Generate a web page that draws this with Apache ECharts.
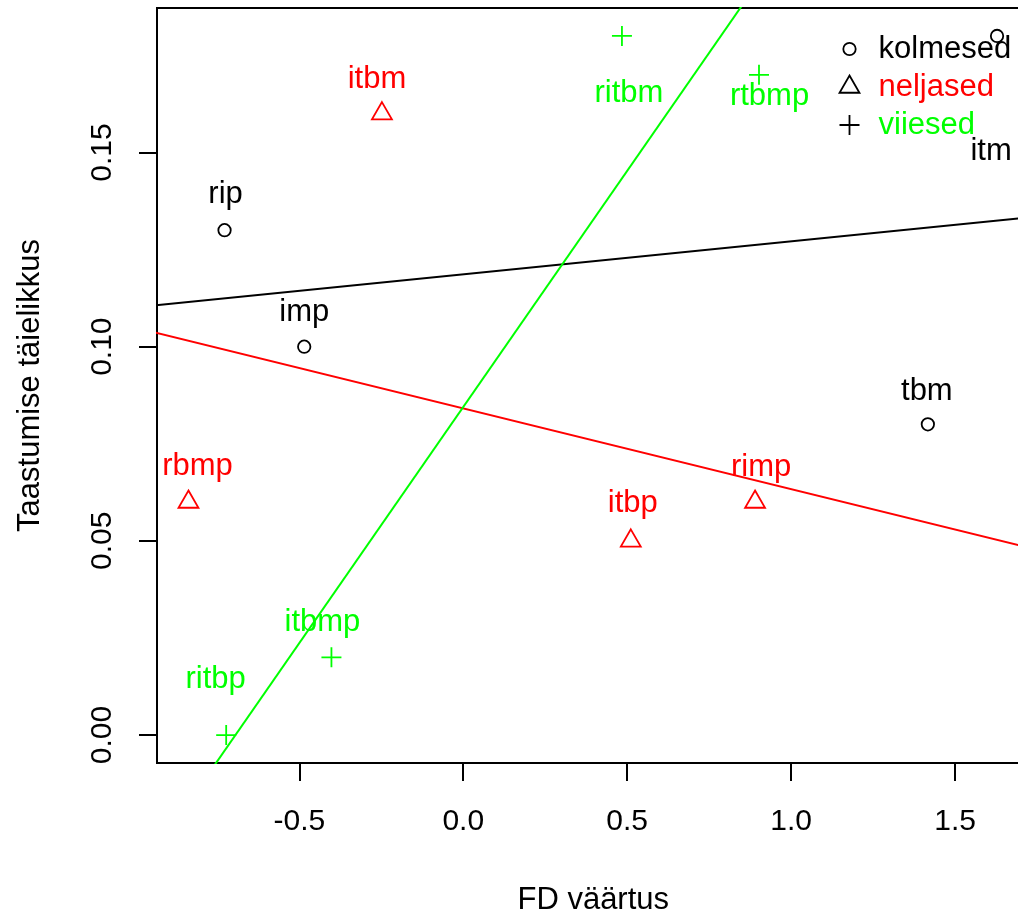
<!DOCTYPE html>
<html><head><meta charset="utf-8">
<script src="https://cdn.jsdelivr.net/npm/echarts@6/dist/echarts.min.js"></script>
<style>html,body{margin:0;padding:0;background:#fff}#c{width:1018px;height:918px}</style>
</head><body><div id="c"></div>
<script>
// ---- data ----
const groupNames = ['kolmesed', 'neljased', 'viiesed'];
const kolmesedNames = ['rip', 'imp', 'tbm', 'itm'];
const kolmesedX = [-0.728, -0.485, 1.417, 1.628];
const kolmesedY = [0.13, 0.10, 0.08, 0.18];
const neljasedNames = ['itbm', 'rbmp', 'itbp', 'rimp'];
const neljasedX = [-0.248, -0.838, 0.511, 0.890];
const neljasedY = [0.16, 0.06, 0.05, 0.06];
const viiesedNames = ['ritbm', 'rtbmp', 'itbmp', 'ritbp'];
const viiesedX = [0.484, 0.902, -0.402, -0.723];
const viiesedY = [0.18, 0.17, 0.02, 0.00];
// fitted lines: end points
const kolmesedFit = [[-1.0, 0.1101], [1.8, 0.1339]];
const neljasedFit = [[-1.0, 0.1049], [1.8, 0.0467]];
const viiesedFit = [[-0.8, -0.0128], [0.9, 0.1939]];
const xTicks = [-0.5, 0, 0.5, 1, 1.5];
const xTickLabels = ['-0.5', '0.0', '0.5', '1.0', '1.5'];
const yTicks = [0, 0.05, 0.10, 0.15];
const yTickLabels = ['0.00', '0.05', '0.10', '0.15'];
const xTitle = 'FD väärtus';
const yTitle = 'Taastumise täielikkus';

// ---- styling / placement (not data) ----
const FONT = 'Liberation Sans, Arial, Helvetica, sans-serif';
const colors = ['#000000', '#ff0000', '#00ff00'];
const symbols = [
  'path://M0,0M26,26M6.8,13A6.2,6.2,0,1,1,19.2,13A6.2,6.2,0,1,1,6.8,13Z',
  'path://M0,0M26,26M13,1.5L22.96,18.75L3.04,18.75Z',
  'path://M0,0M26,26M13,3L13,23M3,13L23,13'
];
const labelOffsets = {
  rip: [1, -36], imp: [0, -34.5], tbm: [-1, -33], itm: [-6, 115.5],
  itbm: [-5, -34], rbmp: [9, -36], itbp: [2, -37], rimp: [6, -35],
  ritbm: [7, 57], rtbmp: [10.5, 22], itbmp: [-9, -35], ritbp: [-10.5, -56]
};

function pts(names, xs, ys) {
  return names.map((n, i) => ({
    name: n, value: [xs[i], ys[i]],
    label: { offset: labelOffsets[n] }
  }));
}
const groups = [
  pts(kolmesedNames, kolmesedX, kolmesedY),
  pts(neljasedNames, neljasedX, neljasedY),
  pts(viiesedNames, viiesedX, viiesedY)
];
const fits = [kolmesedFit, neljasedFit, viiesedFit];

const series = [];
groups.forEach((d, i) => {
  series.push({
    name: groupNames[i], type: 'scatter', data: d, z: 2,
    symbol: symbols[i], symbolSize: 26,
    itemStyle: { color: 'none', borderColor: colors[i], borderWidth: 1.8, opacity: 1 },
    label: {
      show: true, position: 'inside', formatter: p => p.name,
      color: colors[i], fontSize: 31, fontFamily: FONT, lineHeight: 31,
      align: 'center', verticalAlign: 'middle'
    },
    emphasis: { disabled: true }, silent: true
  });
});
fits.forEach((f, i) => {
  series.push({
    name: groupNames[i] + ' fit', type: 'line', data: f, z: 3,
    symbol: 'none', clip: true, silent: true,
    lineStyle: { color: colors[i], width: 2 },
    emphasis: { disabled: true }
  });
});

const chart = echarts.init(document.getElementById('c'), null, { renderer: 'canvas' });
chart.setOption({
  animation: false,
  backgroundColor: '#ffffff',
  grid: {
    left: 157, top: 8, width: 872.5, height: 755,
    show: true, borderColor: '#000', borderWidth: 2, backgroundColor: 'transparent',
    containLabel: false, outerBoundsMode: 'none'
  },
  xAxis: {
    type: 'value', min: -0.934, max: 1.727, position: 'bottom',
    name: xTitle, nameLocation: 'middle', nameGap: 122,
    nameTextStyle: { color: '#000', fontSize: 31, fontFamily: FONT, lineHeight: 31 },
    axisLine: { show: false, onZero: false },
    splitLine: { show: false },
    axisTick: { show: true, inside: false, length: 18, customValues: xTicks, lineStyle: { color: '#000', width: 2 } },
    axisLabel: {
      show: true, customValues: xTicks, margin: 44, color: '#000', fontSize: 30, fontFamily: FONT, lineHeight: 30,
      formatter: v => xTickLabels[xTicks.findIndex(t => Math.abs(t - v) < 1e-9)]
    }
  },
  yAxis: {
    type: 'value', min: -0.0072, max: 0.1872, position: 'left',
    name: yTitle, nameLocation: 'middle', nameGap: 111, nameRotate: 90,
    nameTextStyle: { color: '#000', fontSize: 31, fontFamily: FONT, lineHeight: 31 },
    axisLine: { show: false, onZero: false },
    splitLine: { show: false },
    axisTick: { show: true, inside: false, length: 18, customValues: yTicks, lineStyle: { color: '#000', width: 2 } },
    axisLabel: {
      show: true, customValues: yTicks, rotate: 90, margin: 39, color: '#000', fontSize: 30, fontFamily: FONT, lineHeight: 30,
      formatter: v => yTickLabels[yTicks.findIndex(t => Math.abs(t - v) < 1e-9)]
    }
  },
  legend: {
    orient: 'vertical', left: 834, top: 29, padding: 0, itemGap: -2,
    itemWidth: 26, itemHeight: 26, selectedMode: false,
    textStyle: { fontSize: 31, fontFamily: FONT, lineHeight: 31, padding: [9, 0, 0, 11] },
    data: groupNames.map((n, i) => ({
      name: n, icon: symbols[i],
      itemStyle: { color: 'none', borderColor: '#000', borderWidth: 1.8 },
      textStyle: { color: colors[i] }
    }))
  },
  series: series
});
</script></body></html>
